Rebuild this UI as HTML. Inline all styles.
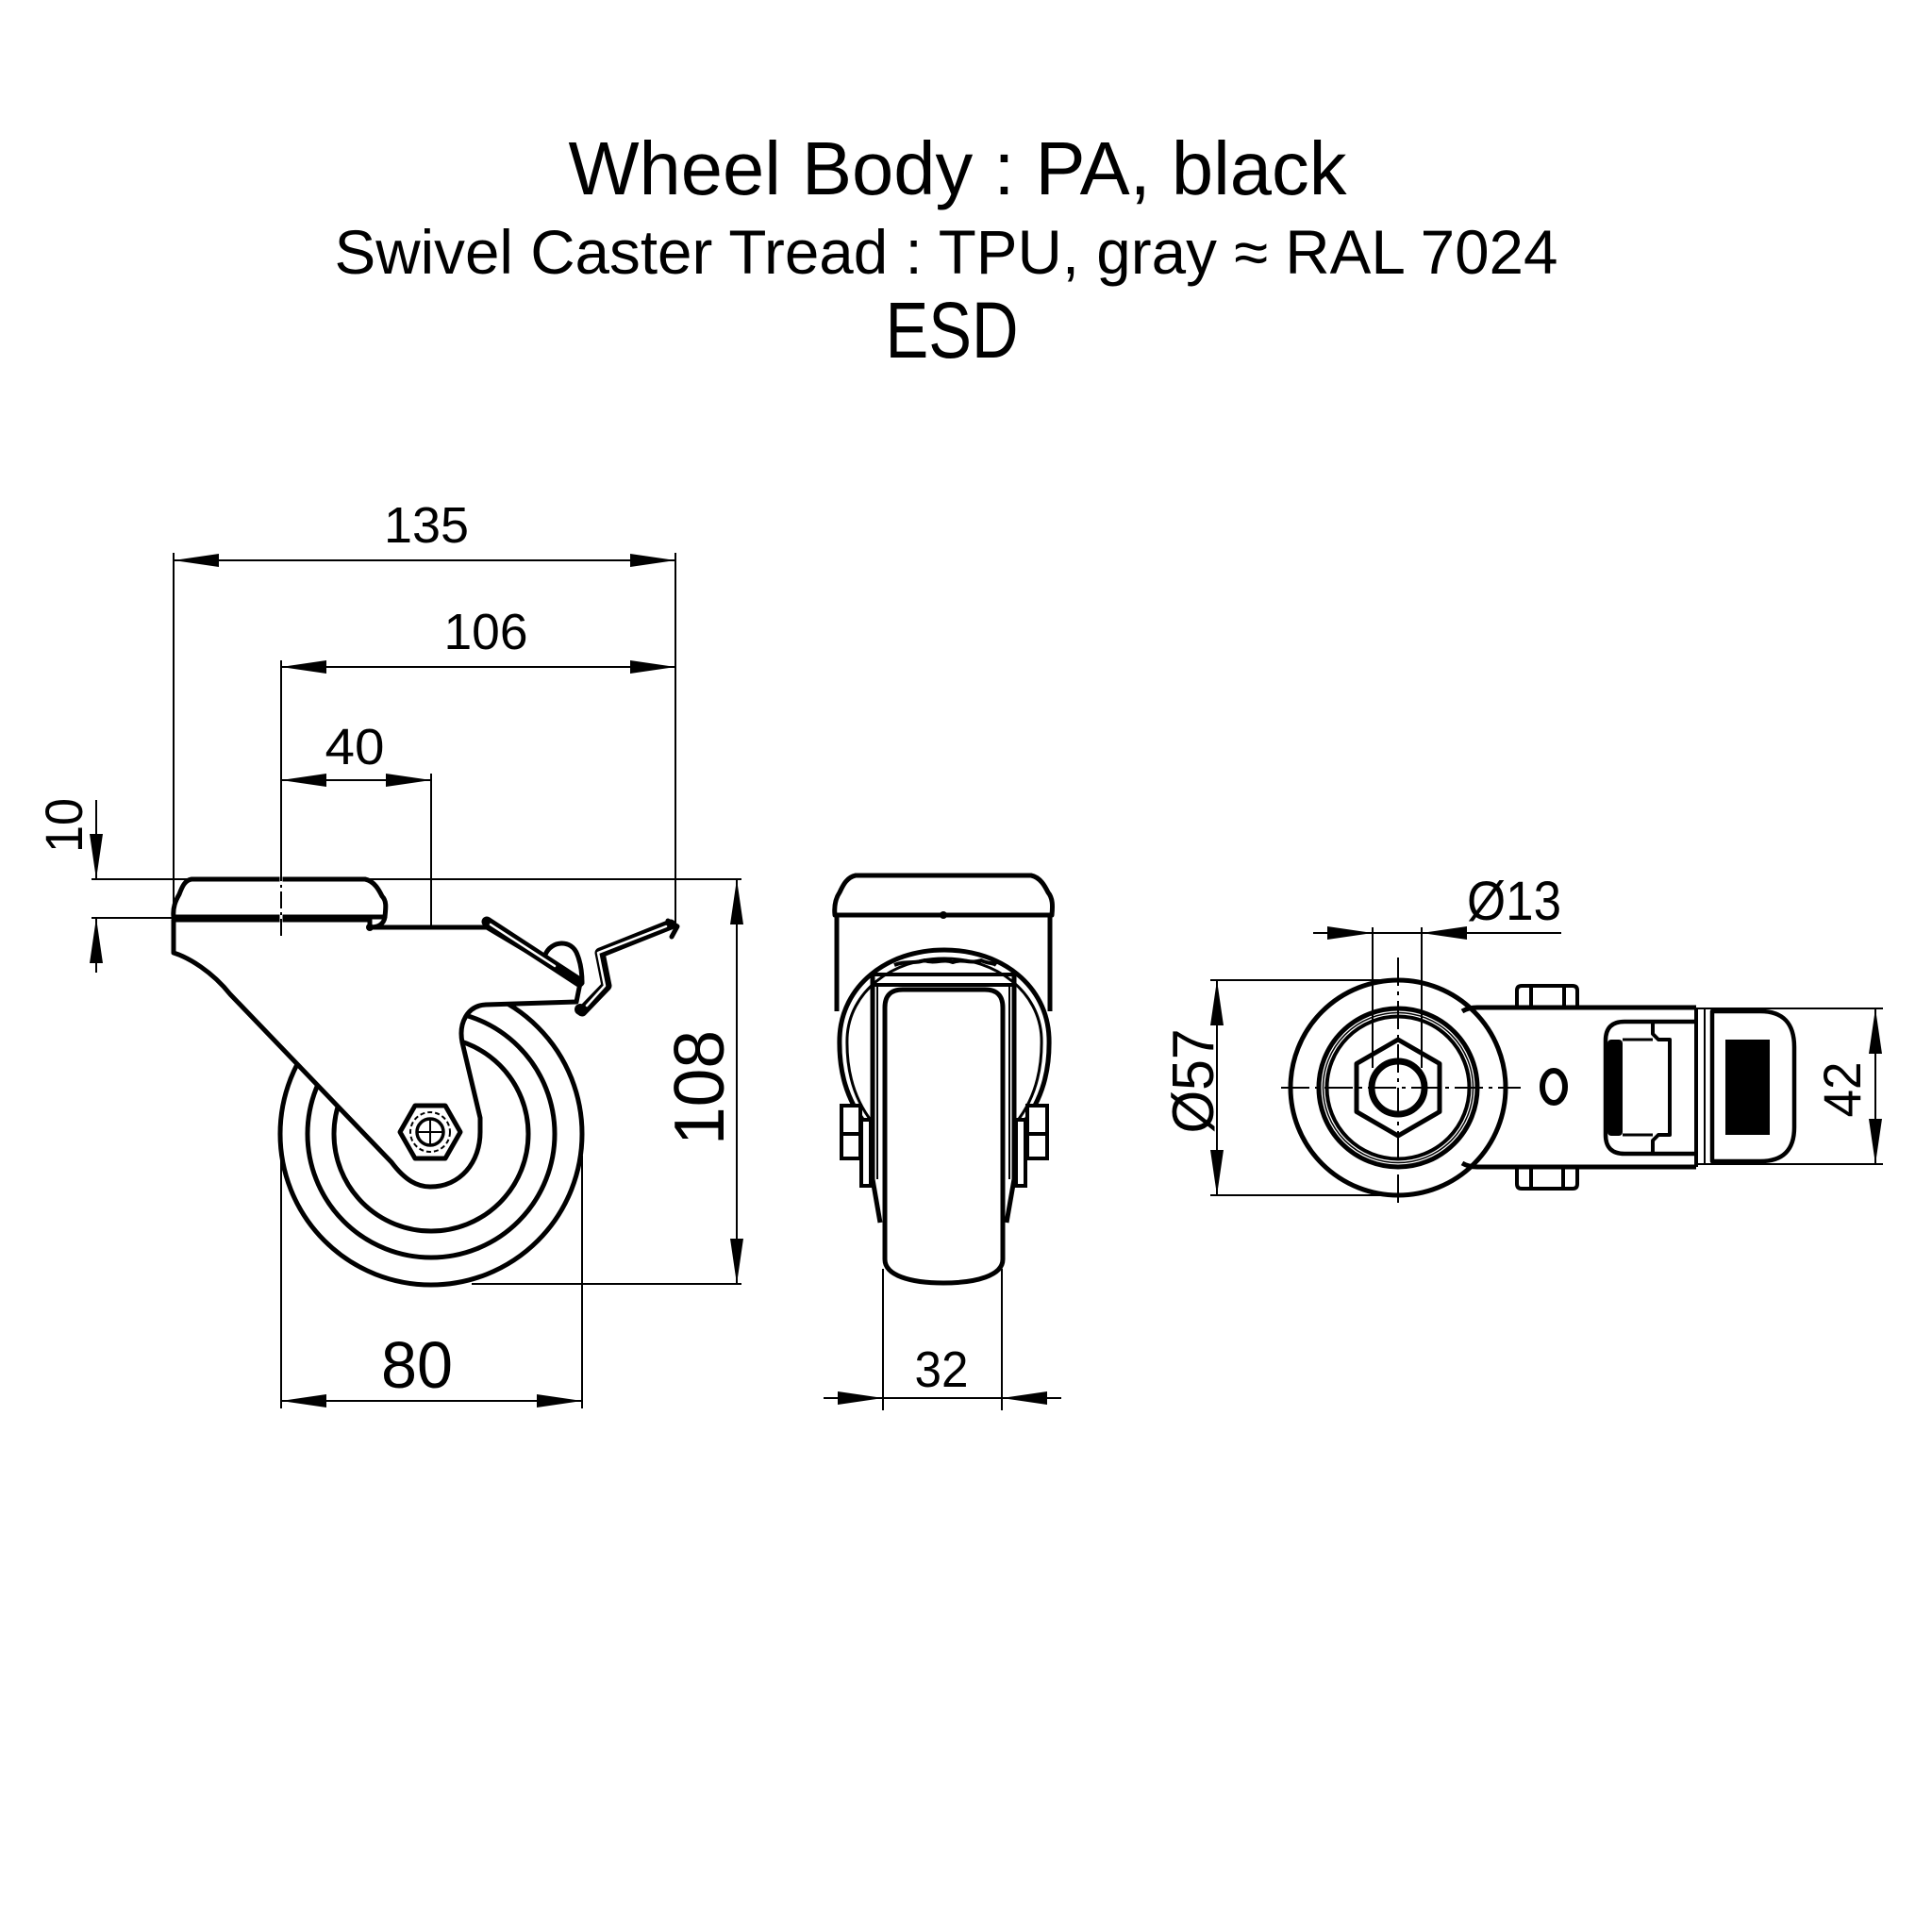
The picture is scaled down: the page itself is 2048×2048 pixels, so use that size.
<!DOCTYPE html>
<html>
<head>
<meta charset="utf-8">
<style>
html,body{margin:0;padding:0;background:#fff;}
svg{display:block;}
text{font-family:"Liberation Sans","DejaVu Sans",sans-serif;fill:#000;}
</style>
</head>
<body>
<svg width="2048" height="2048" viewBox="0 0 2048 2048" xmlns="http://www.w3.org/2000/svg">
<rect width="2048" height="2048" fill="#fff"/>

<!-- TITLE -->
<text x="1015" y="206" font-size="80" text-anchor="middle" textLength="825" lengthAdjust="spacingAndGlyphs">Wheel Body : PA, black</text>
<text x="1003" y="290" font-size="66" text-anchor="middle" textLength="1297" lengthAdjust="spacingAndGlyphs">Swivel Caster Tread : TPU, gray ≈ RAL 7024</text>
<text x="1009" y="379" font-size="84" text-anchor="middle" textLength="141" lengthAdjust="spacingAndGlyphs">ESD</text>

<!-- ============ SIDE VIEW ============ -->
<g stroke="#000" fill="none" stroke-width="2">
  <!-- extension lines -->
  <line x1="184" y1="586" x2="184" y2="972"/>
  <line x1="716" y1="586" x2="716" y2="982"/>
  <line x1="298" y1="700" x2="298" y2="916"/>
  <line x1="298" y1="916" x2="298" y2="992" stroke-dasharray="18 4 3 4"/>
  <line x1="457" y1="820" x2="457" y2="1172"/>
  <line x1="97" y1="932" x2="786" y2="932"/>
  <line x1="97" y1="973" x2="184" y2="973"/>
  <line x1="500" y1="1361" x2="786" y2="1361"/>
  <line x1="298" y1="1215" x2="298" y2="1493"/>
  <line x1="617" y1="1225" x2="617" y2="1493"/>
  <!-- dim lines -->
  <line x1="184" y1="594" x2="716" y2="594"/>
  <line x1="298" y1="707" x2="716" y2="707"/>
  <line x1="298" y1="827" x2="457" y2="827"/>
  <line x1="102" y1="848" x2="102" y2="932"/>
  <line x1="102" y1="973" x2="102" y2="1031"/>
  <line x1="781" y1="932" x2="781" y2="1361"/>
  <line x1="298" y1="1485" x2="617" y2="1485"/>
</g>
<g fill="#000">
  <polygon points="184,594 232,587 232,601"/>
  <polygon points="716,594 668,587 668,601"/>
  <polygon points="298,707 346,700 346,714"/>
  <polygon points="716,707 668,700 668,714"/>
  <polygon points="298,827 346,820 346,834"/>
  <polygon points="457,827 409,820 409,834"/>
  <polygon points="102,932 95,884 109,884"/>
  <polygon points="102,973 95,1021 109,1021"/>
  <polygon points="781,932 774,980 788,980"/>
  <polygon points="781,1361 774,1313 788,1313"/>
  <polygon points="298,1485 346,1478 346,1492"/>
  <polygon points="617,1485 569,1478 569,1492"/>
</g>
<text x="452" y="575" font-size="54" text-anchor="middle" textLength="90" lengthAdjust="spacingAndGlyphs">135</text>
<text x="515" y="688" font-size="54" text-anchor="middle" textLength="89" lengthAdjust="spacingAndGlyphs">106</text>
<text x="376" y="810" font-size="54" text-anchor="middle" textLength="63" lengthAdjust="spacingAndGlyphs">40</text>
<text x="442" y="1471" font-size="70" text-anchor="middle" textLength="76" lengthAdjust="spacingAndGlyphs">80</text>
<text transform="translate(87,875) rotate(-90)" font-size="56" text-anchor="middle" textLength="58" lengthAdjust="spacingAndGlyphs">10</text>
<text transform="translate(767,1153) rotate(-90)" font-size="75" text-anchor="middle" textLength="122" lengthAdjust="spacingAndGlyphs">108</text>

<!-- wheel circles -->
<g stroke="#000" fill="none" stroke-width="5">
  <circle cx="457" cy="1202" r="160"/>
  <circle cx="457" cy="1202" r="131"/>
  <circle cx="457" cy="1202" r="103"/>
</g>
<!-- fork body -->
<path d="M184,975 V1010 C200,1015 225,1030 244,1054 L415,1232 C430,1252 443,1258 456,1258 C488,1258 509,1232 509,1200 L509,1185 L490,1105 C486,1085 495,1066 515,1065 L611,1062 L615,1042 L516,983 L392,983 L392,975 Z" fill="#fff" stroke="#000" stroke-width="5" stroke-linejoin="round"/>
<!-- plate -->
<path d="M203,932 H387 C397,934 402,944 405,950 C410,955 409,962 408,972 H184 C183,962 186,955 190,948 C193,940 196,933 203,932 Z" fill="#fff" stroke="#000" stroke-width="5" stroke-linejoin="round"/>
<path d="M408,972 C407,980 400,983 392,983" fill="none" stroke="#000" stroke-width="5"/>
<circle cx="392" cy="983" r="4" fill="#000"/>
<line x1="298" y1="928" x2="298" y2="992" stroke="#fff" stroke-width="3"/>
<line x1="298" y1="916" x2="298" y2="992" stroke="#000" stroke-width="2" stroke-dasharray="18 4 3 4"/>
<!-- brake lever -->
<g fill="none" stroke-linecap="round" stroke-linejoin="round">
  <line x1="516" y1="977" x2="614" y2="1041" stroke="#000" stroke-width="11"/>
  <line x1="520" y1="980" x2="588" y2="1024" stroke="#fff" stroke-width="2.5"/>
  <path d="M578,1012 C584,997 606,995 612,1012 C616,1022 617,1032 617,1042" stroke="#000" stroke-width="5"/>
  <polyline points="617,1072 643,1045 636,1010 711,980" stroke="#000" stroke-width="11"/>
  <polyline points="622,1066 641,1045 634,1010 706,982" stroke="#fff" stroke-width="2.5"/>
  <path d="M708,976 L718,982 L712,993" stroke="#000" stroke-width="5"/>
</g>
<circle cx="615" cy="1070" r="6" fill="#000"/>
<!-- hub -->
<polygon points="424,1200 440,1172 472,1172 488,1200 472,1228 440,1228" fill="#fff" stroke="#000" stroke-width="5" stroke-linejoin="round"/>
<circle cx="456" cy="1200" r="21" fill="none" stroke="#000" stroke-width="2" stroke-dasharray="5 3"/>
<circle cx="456" cy="1200" r="14" fill="none" stroke="#000" stroke-width="3.5"/>
<line x1="443" y1="1200" x2="469" y2="1200" stroke="#000" stroke-width="2"/>
<line x1="456" y1="1187" x2="456" y2="1213" stroke="#000" stroke-width="2"/>

<!-- ============ FRONT VIEW ============ -->
<g stroke="#000" fill="none" stroke-width="2">
  <line x1="936" y1="1345" x2="936" y2="1495"/>
  <line x1="1062" y1="1345" x2="1062" y2="1495"/>
  <line x1="873" y1="1482" x2="1125" y2="1482"/>
</g>
<g fill="#000">
  <polygon points="936,1482 888,1475 888,1489"/>
  <polygon points="1062,1482 1110,1475 1110,1489"/>
</g>
<text x="998" y="1470" font-size="54" text-anchor="middle" textLength="57" lengthAdjust="spacingAndGlyphs">32</text>

<g stroke="#000" fill="none" stroke-width="5" stroke-linejoin="round">
  <!-- fork outer sides -->
  <line x1="887" y1="972" x2="887" y2="1072"/>
  <line x1="1113" y1="972" x2="1113" y2="1072"/>
  <!-- horseshoe -->
  <path d="M918,1192 C897,1165 889,1135 890,1100 C892,1045 940,1007 1001,1007 C1062,1007 1110,1045 1112,1100 C1113,1135 1105,1165 1084,1192"/>
  <path d="M925,1190 C905,1165 897,1135 898,1100 C900,1052 945,1016 1001,1016 C1057,1016 1102,1052 1104,1100 C1105,1135 1097,1165 1077,1190" stroke-width="3"/>
  <!-- crown -->
  <path d="M948,1023 C960,1018 970,1022 980,1018 C990,1022 1000,1016 1010,1020 C1020,1016 1030,1022 1040,1018 C1048,1022 1052,1020 1056,1023" stroke-width="4"/>
  <line x1="926" y1="1033" x2="1075" y2="1033" stroke-width="4"/>
  <line x1="926" y1="1044" x2="1075" y2="1044" stroke-width="4"/>
  <!-- legs -->
  <path d="M925,1033 V1250 L933,1296"/>
  <path d="M1075,1033 V1250 L1067,1296"/>
  <line x1="930" y1="1044" x2="930" y2="1250" stroke-width="2"/>
  <line x1="1070" y1="1044" x2="1070" y2="1250" stroke-width="2"/>
  <!-- wheel -->
  <path d="M938,1335 V1068 Q938,1049 957,1049 H1044 Q1063,1049 1063,1068 V1335 C1063,1352 1035,1360 1000,1360 C965,1360 938,1352 938,1335 Z"/>
</g>
<line x1="940" y1="1039" x2="1062" y2="1039" stroke="#fff" stroke-width="2.5" stroke-dasharray="10 12"/>
<!-- plate -->
<path d="M907,928 H1093 C1103,930 1108,940 1111,946 C1116,952 1116,960 1115,970 H885 C884,960 886,952 890,946 C893,940 897,930 907,928 Z" fill="#fff" stroke="#000" stroke-width="5" stroke-linejoin="round"/>
<circle cx="1000" cy="970" r="4" fill="#000"/>
<!-- brackets -->
<g stroke="#000" fill="#fff" stroke-width="4">
  <rect x="892" y="1172" width="20" height="56"/>
  <line x1="892" y1="1202" x2="912" y2="1202"/>
  <rect x="913" y="1187" width="10" height="70"/>
  <rect x="1089" y="1172" width="21" height="56"/>
  <line x1="1089" y1="1202" x2="1110" y2="1202"/>
  <rect x="1077" y="1187" width="10" height="70"/>
</g>

<!-- ============ TOP VIEW ============ -->
<g stroke="#000" fill="none" stroke-width="2">
  <line x1="1283" y1="1039" x2="1482" y2="1039"/>
  <line x1="1283" y1="1267" x2="1482" y2="1267"/>
  <line x1="1290" y1="1039" x2="1290" y2="1267"/>
  <line x1="1800" y1="1069" x2="1996" y2="1069"/>
  <line x1="1800" y1="1234" x2="1996" y2="1234"/>
  <line x1="1988" y1="1069" x2="1988" y2="1234"/>
  <line x1="1392" y1="989" x2="1655" y2="989"/>
</g>
<g fill="#000">
  <polygon points="1290,1039 1283,1087 1297,1087"/>
  <polygon points="1290,1267 1283,1219 1297,1219"/>
  <polygon points="1988,1069 1981,1117 1995,1117"/>
  <polygon points="1988,1234 1981,1186 1995,1186"/>
  <polygon points="1455,989 1407,982 1407,996"/>
  <polygon points="1507,989 1555,982 1555,996"/>
</g>
<text x="1605" y="975" font-size="58" text-anchor="middle" textLength="100" lengthAdjust="spacingAndGlyphs">Ø13</text>
<text transform="translate(1286,1146) rotate(-90)" font-size="62" text-anchor="middle" textLength="111" lengthAdjust="spacingAndGlyphs">Ø57</text>
<text transform="translate(1972,1155) rotate(-90)" font-size="56" text-anchor="middle" textLength="59" lengthAdjust="spacingAndGlyphs">42</text>

<g stroke="#000" stroke-width="5" fill="none" stroke-linejoin="round">
  <circle cx="1482" cy="1153" r="114" fill="#fff"/>
  <path d="M1550,1072 C1555,1069 1560,1068 1566,1068 H1798"/>
  <path d="M1550,1233 C1555,1236 1560,1237 1566,1237 H1798"/>
  <circle cx="1482" cy="1153" r="84"/>
  <circle cx="1482" cy="1153" r="79.5" stroke-width="1.5"/>
  <circle cx="1482" cy="1153" r="75.5" stroke-width="4"/>
  <polygon points="1482,1102 1526,1127.5 1526,1178.5 1482,1204 1438,1178.5 1438,1127.5"/>
  <circle cx="1482" cy="1153" r="28" stroke-width="7"/>
  <!-- brackets -->
  <path d="M1608,1068 V1050 Q1608,1045 1613,1045 H1667 Q1672,1045 1672,1050 V1068" stroke-width="4"/>
  <line x1="1623" y1="1046" x2="1623" y2="1068" stroke-width="4"/>
  <line x1="1658" y1="1046" x2="1658" y2="1068" stroke-width="4"/>
  <path d="M1608,1237 V1255 Q1608,1260 1613,1260 H1667 Q1672,1260 1672,1255 V1237" stroke-width="4"/>
  <line x1="1623" y1="1237" x2="1623" y2="1259" stroke-width="4"/>
  <line x1="1657" y1="1237" x2="1657" y2="1259" stroke-width="4"/>
  <!-- hole -->
  <ellipse cx="1647" cy="1152" rx="12" ry="17" stroke-width="6"/>
  <!-- pedal -->
  <path d="M1798,1083 H1722 Q1702,1083 1702,1103 V1203 Q1702,1223 1722,1223 H1798" stroke-width="4.5"/>
  <path d="M1752,1084 V1096 L1758,1102 H1770 V1203 H1758 L1752,1209 V1222" stroke-width="4"/>
  <line x1="1720" y1="1102" x2="1752" y2="1102" stroke-width="3"/>
  <line x1="1720" y1="1203" x2="1752" y2="1203" stroke-width="3"/>
  <line x1="1798" y1="1068" x2="1798" y2="1237" stroke-width="4"/>
  <line x1="1807" y1="1070" x2="1807" y2="1235" stroke-width="2"/>
  <!-- head -->
  <path d="M1815,1072 H1866 Q1902,1072 1902,1110 V1195 Q1902,1231 1866,1231 H1815 Z" stroke-width="4.5"/>
</g>
<rect x="1704" y="1102" width="16" height="102" rx="4" fill="#000"/>
<rect x="1829" y="1102" width="47" height="101" fill="#000"/>
<!-- center lines -->
<g stroke="#000" stroke-width="2" fill="none">
  <line x1="1358" y1="1153" x2="1612" y2="1153" stroke-dasharray="30 6 4 6"/>
  <line x1="1482" y1="1015" x2="1482" y2="1278" stroke-dasharray="30 6 4 6"/>
  <line x1="1455" y1="983" x2="1455" y2="1132"/>
  <line x1="1507" y1="983" x2="1507" y2="1132"/>
</g>
</svg>
</body>
</html>
